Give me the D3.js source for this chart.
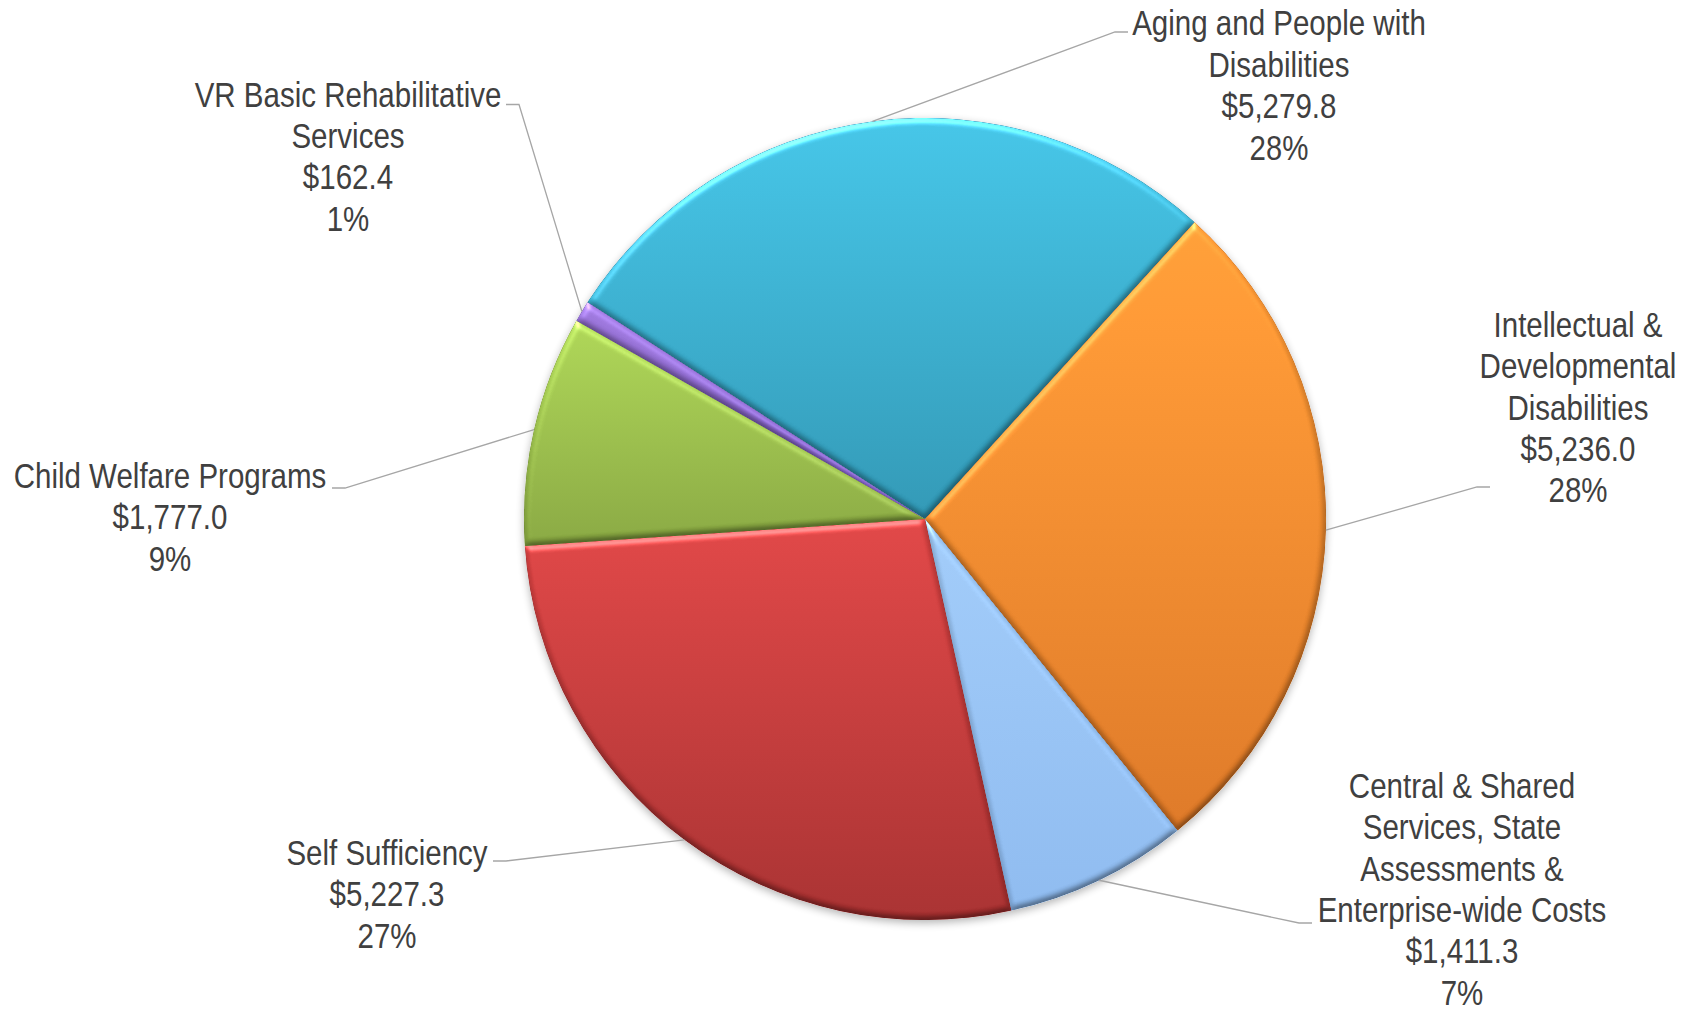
<!DOCTYPE html>
<html>
<head>
<meta charset="utf-8">
<script src="https://cdn.jsdelivr.net/npm/d3@7"></script>
<style>
  html, body { margin: 0; padding: 0; background: #ffffff; }
  svg { display: block; }
  .lbl { font-family: "Liberation Sans Narrow", "Arial Narrow", "Liberation Sans", Arial, sans-serif; font-size: 36px; fill: #404040; }
</style>
</head>
<body>
<svg id="chart" width="1689" height="1009"></svg>
<script>
// Budget by program area (millions of dollars)
const categories = [
  "Aging and People with Disabilities",
  "Intellectual & Developmental Disabilities",
  "Central & Shared Services, State Assessments & Enterprise-wide Costs",
  "Self Sufficiency",
  "Child Welfare Programs",
  "VR Basic Rehabilitative Services"
];
const labelLines = [
  ["Aging and People with", "Disabilities"],
  ["Intellectual &", "Developmental", "Disabilities"],
  ["Central & Shared", "Services, State", "Assessments &", "Enterprise-wide Costs"],
  ["Self Sufficiency"],
  ["Child Welfare Programs"],
  ["VR Basic Rehabilitative", "Services"]
];
const amounts = [5279.8, 5236.0, 1411.3, 5227.3, 1777.0, 162.4];
const percentLabels = ["28%", "28%", "7%", "27%", "9%", "1%"];

// Slice colours: top and bottom of each slice's vertical gradient
const colorsTop    = ["#41c1e3", "#ff9b34", "#9dc7f4", "#dc4343", "#aad253", "#9a74d9"];
const colorsBottom = ["#2e94b1", "#d97524", "#8ab6ea", "#a42e2e", "#85a43f", "#7a5abd"];

// Label placement: text centre x, first line centre y, leader end point, side
const labelLayout = [
  { cx: 1279, top: 22.6, lx: 1128, ly: 32,    side:  1 },
  { cx: 1578, top: 324,  lx: 1490, ly: 487,   side:  1 },
  { cx: 1462, top: 785,  lx: 1312, ly: 923,   side:  1 },
  { cx: 387,  top: 852,  lx: 493,  ly: 861,   side: -1 },
  { cx: 170,  top: 475,  lx: 332,  ly: 488,   side: -1 },
  { cx: 348,  top: 93.7, lx: 506,  ly: 104.5, side: -1 }
];

const W = 1689, H = 1009;
const cx = 925, cy = 519, R = 401;
const lineStep = 41.4, capHalf = 12.9;
const narrow = 0.82;           // condensed face: horizontal squeeze of the sans face
const startDeg = -57.3;

const fmt = d3.format(",.1f");
const svg = d3.select("#chart");
const defs = svg.append("defs");

// vertical gradients
amounts.forEach((_, i) => {
  const g = defs.append("linearGradient")
    .attr("id", "grad" + i)
    .attr("x1", 0).attr("y1", 0).attr("x2", 0).attr("y2", 1);
  g.append("stop").attr("offset", "0%").attr("stop-color", colorsTop[i]);
  g.append("stop").attr("offset", "100%").attr("stop-color", colorsBottom[i]);
});

// soft bevel on each slice
const bevel = defs.append("filter")
  .attr("id", "bevel")
  .attr("x", "-5%").attr("y", "-5%").attr("width", "110%").attr("height", "110%")
  .attr("color-interpolation-filters", "sRGB");
bevel.append("feGaussianBlur").attr("in", "SourceAlpha").attr("stdDeviation", 3).attr("result", "blur");
bevel.append("feDiffuseLighting")
  .attr("in", "blur").attr("surfaceScale", 3).attr("diffuseConstant", 1)
  .attr("lighting-color", "#ffffff").attr("result", "diff")
  .append("feDistantLight").attr("azimuth", 255).attr("elevation", 60);
bevel.append("feComposite")
  .attr("in", "SourceGraphic").attr("in2", "diff")
  .attr("operator", "arithmetic")
  .attr("k1", 0.81).attr("k2", 0.3).attr("k3", 0).attr("k4", 0)
  .attr("result", "lit");
bevel.append("feSpecularLighting")
  .attr("in", "blur").attr("surfaceScale", 3).attr("specularConstant", 0.45)
  .attr("specularExponent", 22).attr("lighting-color", "#ffffff").attr("result", "spec")
  .append("feDistantLight").attr("azimuth", 255).attr("elevation", 35);
bevel.append("feComposite")
  .attr("in", "spec").attr("in2", "SourceAlpha").attr("operator", "in").attr("result", "specIn");
bevel.append("feComposite")
  .attr("in", "lit").attr("in2", "specIn")
  .attr("operator", "arithmetic")
  .attr("k1", 0).attr("k2", 1).attr("k3", 0.7).attr("k4", 0)
  .attr("result", "sum");
bevel.append("feComposite").attr("in", "sum").attr("in2", "SourceAlpha").attr("operator", "in");

// faint shadow under the pie
const shadow = defs.append("filter")
  .attr("id", "shadow")
  .attr("x", "-10%").attr("y", "-10%").attr("width", "120%").attr("height", "120%");
shadow.append("feGaussianBlur").attr("in", "SourceAlpha").attr("stdDeviation", 4).attr("result", "sb");
shadow.append("feOffset").attr("in", "sb").attr("dx", 0).attr("dy", 3).attr("result", "so");
shadow.append("feComponentTransfer").attr("in", "so").attr("result", "sf")
  .append("feFuncA").attr("type", "linear").attr("slope", 0.3);
const merge = shadow.append("feMerge");
merge.append("feMergeNode").attr("in", "sf");
merge.append("feMergeNode").attr("in", "SourceGraphic");

const a0 = startDeg * Math.PI / 180;
const pie = d3.pie().sort(null).value(d => d).startAngle(a0).endAngle(a0 + 2 * Math.PI);
const arcs = pie(amounts);
const arc = d3.arc().innerRadius(0).outerRadius(R);

const pieG = svg.append("g").attr("transform", `translate(${cx},${cy})`);
const shadowG = pieG.append("g").attr("filter", "url(#shadow)");
shadowG.selectAll("path.base")
  .data(arcs)
  .join("path")
  .attr("class", "base")
  .attr("d", arc)
  .attr("fill", (d, i) => colorsBottom[i]);
pieG.selectAll("path.slice")
  .data(arcs)
  .join("path")
  .attr("class", "slice")
  .attr("d", arc)
  .attr("fill", (d, i) => `url(#grad${i})`)
  .attr("filter", "url(#bevel)");

// leader lines
const leaders = svg.append("g");
arcs.forEach((d, i) => {
  const mid = (d.startAngle + d.endAngle) / 2;
  const px = cx + R * Math.sin(mid);
  const py = cy - R * Math.cos(mid);
  const L = labelLayout[i];
  const ex = L.lx - 13 * L.side;
  leaders.append("polyline")
    .attr("points", `${px},${py} ${ex},${L.ly} ${L.lx},${L.ly}`)
    .attr("fill", "none")
    .attr("stroke", "#a6a6a6")
    .attr("stroke-width", 1.3);
});

// data labels: category, amount, percent
const labels = svg.append("g");
arcs.forEach((d, i) => {
  const L = labelLayout[i];
  const lines = labelLines[i].concat(["$" + fmt(d.data), percentLabels[i]]);
  const t = labels.append("text")
    .attr("class", "lbl")
    .attr("text-anchor", "middle")
    .attr("transform", `translate(${L.cx},0) scale(${narrow},1)`);
  lines.forEach((s, k) => {
    t.append("tspan")
      .attr("x", 0)
      .attr("y", L.top + k * lineStep + capHalf)
      .text(s);
  });
});
</script>
</body>
</html>
